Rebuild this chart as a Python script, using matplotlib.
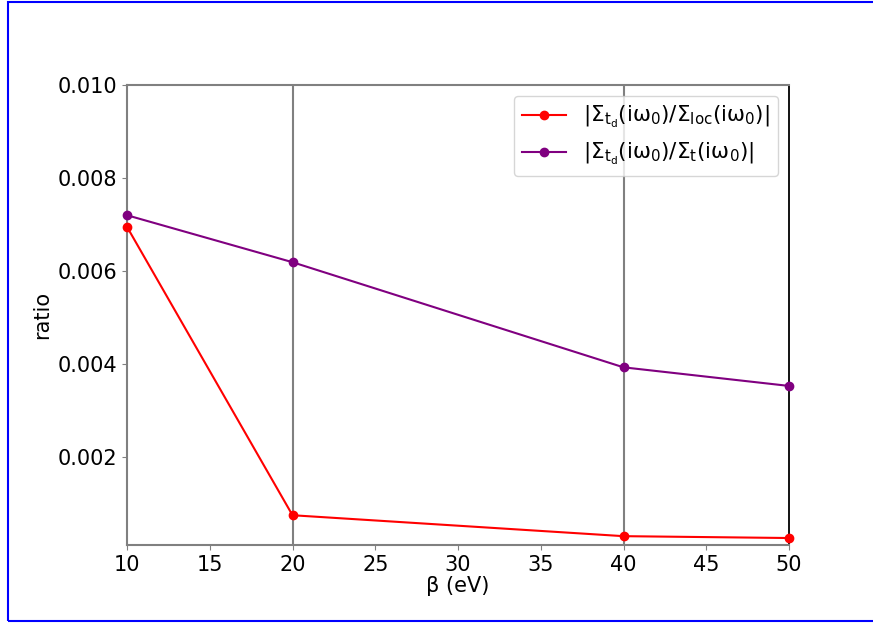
import matplotlib
matplotlib.use("Agg")
import matplotlib.pyplot as plt
from matplotlib.patches import Rectangle

plt.rcParams['mathtext.default'] = 'regular'
plt.rcParams['font.size'] = 15

beta = [10, 20, 40, 50]
ratio_loc = [0.00695, 0.00075, 0.00030, 0.00026]
ratio_t = [0.00720, 0.00619, 0.00393, 0.00353]
label_loc = r'$|\Sigma_{t_d}(i\omega_0)/\Sigma_{loc}(i\omega_0)|$'
label_t = r'$|\Sigma_{t_d}(i\omega_0)/\Sigma_{t}(i\omega_0)|$'
xticks = [10, 15, 20, 25, 30, 35, 40, 45, 50]
yticks = [0.002, 0.004, 0.006, 0.008, 0.010]

fig = plt.figure(figsize=(8.73, 6.23), dpi=100)
ax = fig.add_axes([127/873, 1-545/623, (789-127)/873, (545-85)/623])

for b in beta[1:-1]:
    ax.axvline(b, color='grey', lw=1.5, zorder=1)

ax.plot(beta, ratio_loc, color='red', marker='o', markersize=6, lw=1.5, label=label_loc, zorder=3, clip_on=False)
ax.plot(beta, ratio_t, color='purple', marker='o', markersize=6, lw=1.5, label=label_t, zorder=3, clip_on=False)

ax.set_xlim(10, 50)
ax.set_ylim(0.00011, 0.010)
ax.set_xticks(xticks)
ax.set_yticks(yticks)
ax.set_xlabel('β (eV)', fontsize=15, labelpad=1)
ax.set_ylabel('ratio', fontsize=15)
ax.tick_params(labelsize=15, color='grey')
for s in ['left', 'bottom', 'top']:
    ax.spines[s].set_color('grey')
    ax.spines[s].set_linewidth(1.5)
ax.spines['right'].set_color('black')
ax.spines['right'].set_linewidth(1.3)

ax.legend(loc='upper right', fontsize=15.5)

fig.patches.append(Rectangle((8/873, 2/623), 1.0, (621-2)/623, transform=fig.transFigure,
                             fill=False, edgecolor='blue', lw=1.5, zorder=10))

fig.savefig('out.png', dpi=100)
